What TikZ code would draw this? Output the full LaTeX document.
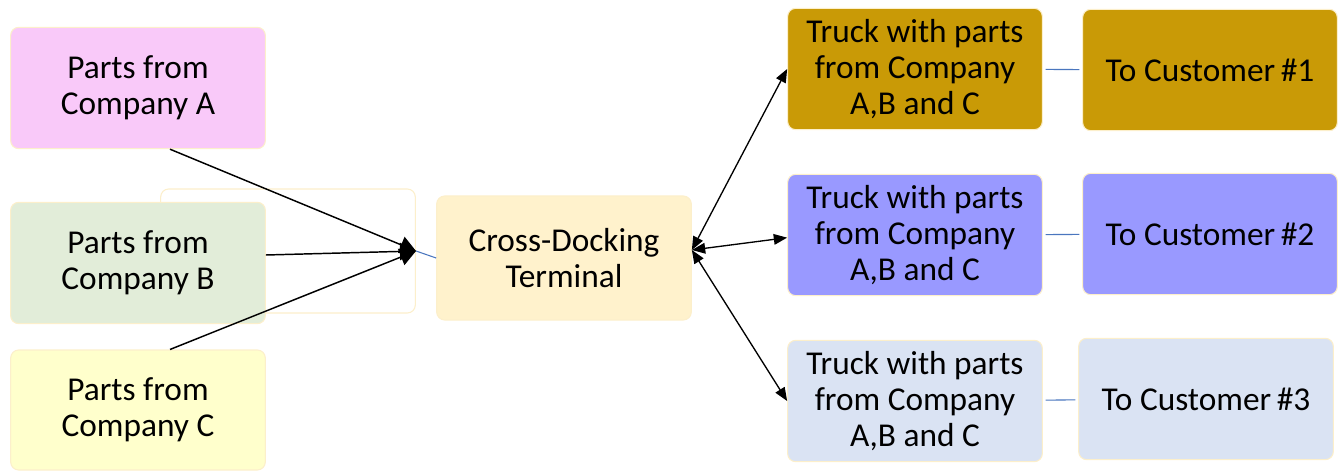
\documentclass[tikz,border=0pt]{standalone}
\usepackage{fontspec}
\setmainfont{Carlito}
\usetikzlibrary{arrows.meta}
\definecolor{pinkA}{HTML}{F9C9F9}
\definecolor{greenB}{HTML}{E2EDD9}
\definecolor{yellowC}{HTML}{FFFFCC}
\definecolor{dockX}{HTML}{FFF2CC}
\definecolor{goldT}{HTML}{C99A06}
\definecolor{violetT}{HTML}{9999FF}
\definecolor{paleT}{HTML}{DAE3F3}
\definecolor{edge}{HTML}{FCEFCB}
\definecolor{linkblue}{HTML}{4A76BE}
\tikzset{
  box/.style={draw=edge, line width=0.8pt, rounded corners=6pt,
    minimum width=191pt, minimum height=91pt, inner sep=0pt,
    align=center, font=\fontsize{25}{27}\selectfont},
  feed/.style={-{Triangle[length=12pt,width=13pt]}, line width=1.1pt},
  ship/.style={{Triangle[length=10pt,width=8pt]}-{Triangle[length=10pt,width=8pt]}, line width=1pt},
  link/.style={draw=linkblue, line width=0.8pt}
}
\begin{document}
\begin{tikzpicture}[x=0.75pt,y=-0.75pt]
  \useasboundingbox (0,0) rectangle (1343,474);
  \draw
    (288,251) node[box,fill=white,minimum height=93pt] (G){}
    (138,88) node[box,fill=pinkA] (A){Parts from\\Company A}
    (138,263) node[box,fill=greenB] (B){Parts from\\Company B}
    (138,410) node[box,fill=yellowC,minimum height=90pt] (C){Parts from\\Company C}
    (564,258) node[box,fill=dockX,minimum height=93pt] (X){Cross-Docking\\Terminal}
    (915,69) node[box,fill=goldT] (T1){Truck with parts\\from Company\\A,B and C}
    (915,235) node[box,fill=violetT] (T2){Truck with parts\\from Company\\A,B and C}
    (915,401) node[box,fill=paleT] (T3){Truck with parts\\from Company\\A,B and C}
    (1210,70) node[box,fill=goldT] (U1){To Customer\,\#1}
    (1210,234) node[box,fill=violetT] (U2){To Customer\,\#2}
    (1206,399) node[box,fill=paleT] (U3){To Customer\,\#3};
  \coordinate (hub) at (416,251);
  \coordinate (fan) at ([yshift=6pt]X.east);
  \begin{scope}[feed]
    \draw ([xshift=24pt]A.south) to (hub);
    \draw ([yshift=6pt]B.east) to (hub);
    \draw ([xshift=24pt]C.north) to (hub);
  \end{scope}
  \draw[link] (hub) to (X.west);
  \begin{scope}[ship]
    \draw (fan) to (T1.west);
    \draw (fan) to ([yshift=-2pt]T2.west);
    \draw (fan) to (T3.west);
  \end{scope}
  \begin{scope}[link,shorten <=2pt,shorten >=2pt]
    \draw (T1) to (U1);
    \draw (T2) to (U2);
    \draw (T3) to (U3);
  \end{scope}
\end{tikzpicture}
\end{document}
